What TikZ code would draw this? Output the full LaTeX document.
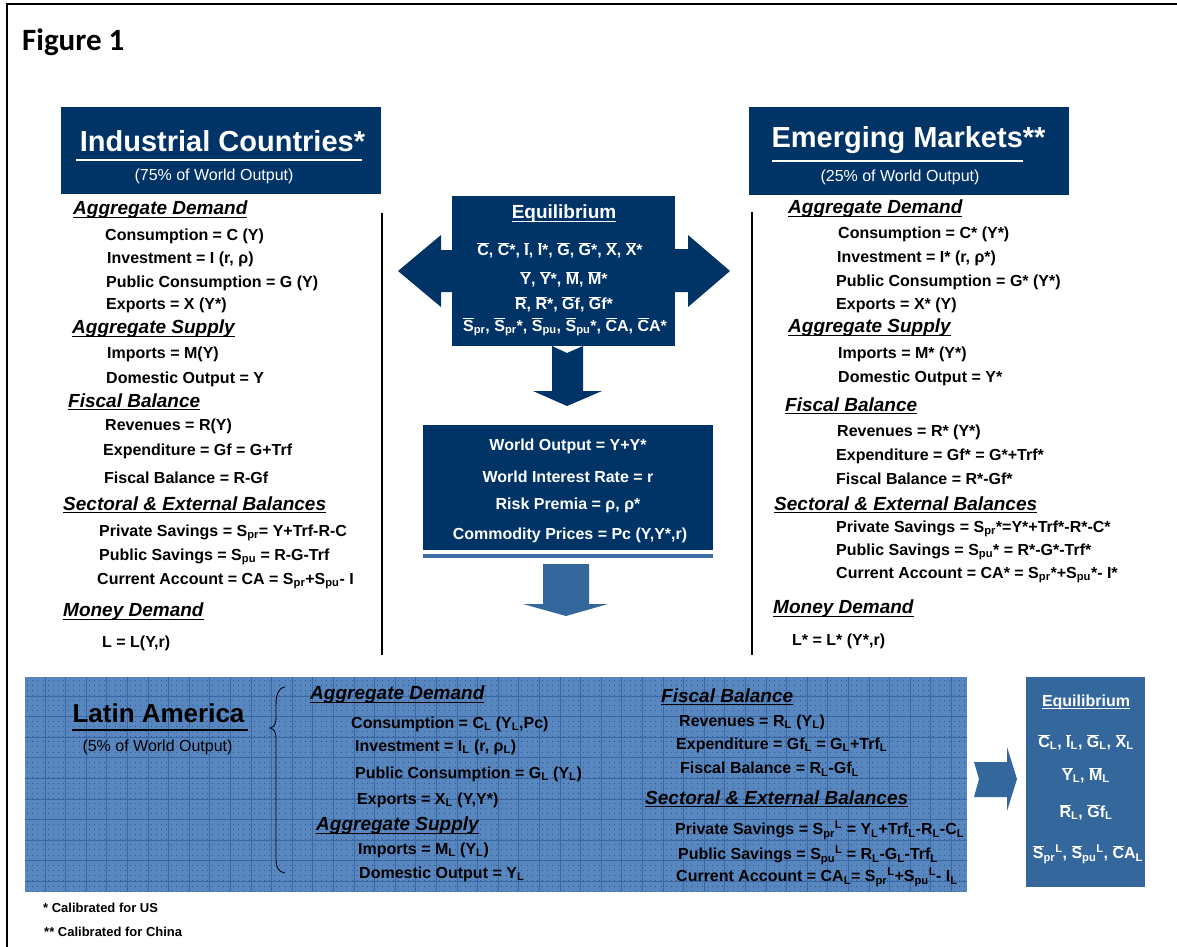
\documentclass[tikz,border=0pt]{standalone}
\usepackage{fontspec}
\setmainfont{Liberation Sans}
\newfontfamily\figfont{Carlito}
\usetikzlibrary{calc}
\definecolor{navy}{RGB}{0,51,102}
\definecolor{steel}{RGB}{52,103,155}
\definecolor{barblue}{RGB}{62,108,166}
\definecolor{latfill}{RGB}{88,135,192}
\definecolor{latline}{RGB}{58,102,162}
\definecolor{latdotc}{RGB}{48,88,148}
\newcommand\ovl[1]{\ensuremath{\overline{\mbox{#1}}}}
\newcommand\sbs[1]{\textsubscript{#1}}
\newcommand\sps[1]{\textsuperscript{#1}}
\newcommand\uln[1]{\leavevmode\setbox0=\hbox{#1}\rlap{\rule[-3pt]{\wd0}{1.4pt}}\box0}
\tikzset{
  hd/.style={anchor=west, inner sep=0pt, yshift=-2pt, font=\fontsize{19}{22}\selectfont\bfseries\itshape},
  eqn/.style={anchor=west, inner sep=0pt, yshift=-2pt, font=\fontsize{16}{19}\selectfont\bfseries},
  wt/.style={inner sep=0pt, yshift=-2pt, text=white, font=\fontsize{16}{19}\selectfont\bfseries},
  ttl/.style={inner sep=0pt, text=white, font=\fontsize{29}{34}\selectfont\bfseries},
  subttl/.style={inner sep=0pt, font=\fontsize{16}{19}\selectfont},
  blk/.style={fill=navy, draw=none, inner sep=0pt, anchor=north west},
  note/.style={anchor=west, inner sep=0pt, font=\fontsize{13}{15}\selectfont\bfseries},
  latdot/.style={latdotc, line width=0.9pt, dash pattern=on 0.9pt off 4.25pt},
  latgrid/.style={latline, line width=0.8pt},
}
\begin{document}
\begin{tikzpicture}[x=1pt, y=-1pt]
  \useasboundingbox (0,0) rectangle (1177,946);
  \draw[line width=1.5pt] (7,952) -- (7,4) -- (1182,4);
  \node[anchor=base west, inner sep=0pt, font=\figfont\fontsize{31}{36}\selectfont\bfseries] (fig) at (22,50) {Figure 1};

  % industrial countries
  \node[blk, minimum width=320pt, minimum height=87pt] (icbox) at (61,107) {};
  \node[ttl] (icT) at (222.5,141) {Industrial Countries*};
  \draw[white, line width=2pt] (76,160) -- (362,160);
  \node[subttl, text=white] (icS) at (214,176) {(75\% of World Output)};
  \node[hd] (icAD) at (73,208) {\uln{Aggregate Demand}};
  \node[eqn] (icC) at (105,234) {Consumption = C (Y)};
  \node[eqn] (icI) at (107,257) {Investment = I (r, ρ)};
  \node[eqn] (icG) at (106,281) {Public Consumption = G (Y)};
  \node[eqn] (icX) at (106,303) {Exports = X (Y*)};
  \node[hd] (icAS) at (72,327) {\uln{Aggregate Supply}};
  \node[eqn] (icM) at (107,352) {Imports = M(Y)};
  \node[eqn] (icY) at (106,377) {Domestic Output = Y};
  \node[hd] (icFB) at (68,400) {\uln{Fiscal Balance}};
  \node[eqn] (icR) at (105,424) {Revenues = R(Y)};
  \node[eqn] (icGf) at (103,449) {Expenditure = Gf = G+Trf};
  \node[eqn] (icB) at (104,476) {Fiscal Balance = R-Gf};
  \node[hd] (icSE) at (63,503) {\uln{Sectoral \& External Balances}};
  \node[eqn] (icSpr) at (99,531) {Private Savings = S\sbs{pr}= Y+Trf-R-C};
  \node[eqn] (icSpu) at (99,555) {Public Savings = S\sbs{pu} = R-G-Trf};
  \node[eqn] (icCA) at (97,579) {Current Account = CA = S\sbs{pr}+S\sbs{pu}- I};
  \node[hd] (icMD) at (63,610) {\uln{Money Demand}};
  \node[eqn] (icL) at (102,641) {L = L(Y,r)};
  \draw[line width=1.3pt] (382,213) -- (382,655);

  % emerging markets
  \node[blk, minimum width=320pt, minimum height=88pt] (embox) at (749,107) {};
  \node[ttl] (emT) at (908.5,140) {Emerging Markets**};
  \draw[white, line width=2pt] (772,161) -- (1023,161);
  \node[subttl, text=white] (emS) at (900,177) {(25\% of World Output)};
  \node[hd] (emAD) at (788,207) {\uln{Aggregate Demand}};
  \node[eqn] (emC) at (838,232) {Consumption = C* (Y*)};
  \node[eqn] (emI) at (837,256) {Investment = I* (r, ρ*)};
  \node[eqn] (emG) at (836,280) {Public Consumption = G* (Y*)};
  \node[eqn] (emX) at (836,303) {Exports = X* (Y)};
  \node[hd] (emAS) at (788,326) {\uln{Aggregate Supply}};
  \node[eqn] (emM) at (838,352) {Imports = M* (Y*)};
  \node[eqn] (emY) at (838,376) {Domestic Output = Y*};
  \node[hd] (emFB) at (785,404) {\uln{Fiscal Balance}};
  \node[eqn] (emR) at (837,430) {Revenues = R* (Y*)};
  \node[eqn] (emGf) at (836,454) {Expenditure = Gf* = G*+Trf*};
  \node[eqn] (emB) at (836,477) {Fiscal Balance = R*-Gf*};
  \node[hd] (emSE) at (774,503) {\uln{Sectoral \& External Balances}};
  \node[eqn] (emSpr) at (836,527) {Private Savings = S\sbs{pr}*=Y*+Trf*-R*-C*};
  \node[eqn] (emSpu) at (836,550) {Public Savings = S\sbs{pu}* = R*-G*-Trf*};
  \node[eqn] (emCA) at (836,573) {Current Account = CA* = S\sbs{pr}*+S\sbs{pu}*- I*};
  \node[hd] (emMD) at (773,607) {\uln{Money Demand}};
  \node[eqn] (emL) at (792,639) {L* = L* (Y*,r)};
  \draw[line width=1.3pt] (752,212) -- (752,655);

  % world equilibrium with block arrows
  \fill[navy] (452,250) -- (441,250) -- (441,235) -- (398,271) -- (441,307) -- (441,292) -- (452,292) -- cycle;
  \fill[navy] (675,249) -- (688,249) -- (688,235) -- (730,271) -- (688,307) -- (688,292) -- (675,292) -- cycle;
  \fill[navy] (552,346) -- (567,353) -- (583,346) -- (583,391) -- (602,391) -- (567,406) -- (533,391) -- (552,391) -- cycle;
  \node[blk, minimum width=223pt, minimum height=150pt] (eqbox) at (452,196) {};
  \node[wt, font=\fontsize{19}{22}\selectfont\bfseries] (eqT) at (564,212) {\uln{Equilibrium}};
  \node[wt] (eq1) at (560,248) {\ovl{C}, \ovl{C}*, \ovl{I}, \ovl{I}*, \ovl{G}, \ovl{G}*, \ovl{X}, \ovl{X}*};
  \node[wt] (eq2) at (564,277) {\ovl{Y}, \ovl{Y}*, \ovl{M}, \ovl{M}*};
  \node[wt] (eq3) at (564,302) {\ovl{R}, \ovl{R}*, \ovl{G}f, \ovl{G}f*};
  \node[wt] (eq4) at (565,325) {\ovl{S}\sbs{pr}, \ovl{S}\sbs{pr}*, \ovl{S}\sbs{pu}, \ovl{S}\sbs{pu}*, \ovl{C}A, \ovl{C}A*};

  % world variables
  \node[blk, minimum width=290pt, minimum height=125pt] (wbox) at (423,425) {};
  \fill[barblue] (423,554) rectangle (713,558);
  \node[wt] (wY) at (568,444) {World Output = Y+Y*};
  \node[wt] (wr) at (568,475) {World Interest Rate = r};
  \node[wt] (wrho) at (568,503) {Risk Premia = ρ, ρ*};
  \node[wt] (wPc) at (570,533) {Commodity Prices = Pc (Y,Y*,r)};
  \fill[steel] (543,564) -- (589,564) -- (589,604) -- (608,604) -- (566,616) -- (523,604) -- (543,604) -- cycle;

  % latin america
  \begin{scope}
    \clip (25,677) rectangle (967,892);
    \fill[latfill] (25,677) rectangle (967,892);
    \foreach \gx in {27.5,32.65,...,967} \draw[latdot] (\gx,679.5) -- (\gx,892);
    \foreach \gx in {45,65.6,...,967} \draw[latgrid] (\gx,677) -- (\gx,892);
    \foreach \gy in {696,716.6,...,892} \draw[latgrid] (25,\gy) -- (967,\gy);
  \end{scope}
  \node[inner sep=0pt, font=\fontsize{26}{30}\selectfont\bfseries] (laT) at (158.5,713) {Latin America};
  \draw[line width=2pt] (72,730) -- (248,730);
  \node[subttl] (laS) at (157.5,747) {(5\% of World Output)};
  \draw[line width=0.9pt] (285,687) .. controls (278,688) and (276,695) .. (276,705) -- (276,718)
    .. controls (276,724) and (274,727) .. (270,728) .. controls (274,729) and (276,732) .. (276,738)
    -- (276,860) .. controls (276,868) and (279,872) .. (285,873);
  \node[hd] (laAD) at (310,693) {\uln{Aggregate Demand}};
  \node[eqn] (laC) at (351,722) {Consumption = C\sbs{L} (Y\sbs{L},Pc)};
  \node[eqn] (laI) at (355,745) {Investment = I\sbs{L} (r, ρ\sbs{L})};
  \node[eqn] (laG) at (355,772) {Public Consumption = G\sbs{L} (Y\sbs{L})};
  \node[eqn] (laX) at (357,798) {Exports = X\sbs{L} (Y,Y*)};
  \node[hd] (laAS) at (316,824) {\uln{Aggregate Supply}};
  \node[eqn] (laM) at (358,848) {Imports = M\sbs{L} (Y\sbs{L})};
  \node[eqn] (laY) at (359,872) {Domestic Output = Y\sbs{L}};
  \node[hd] (laFB) at (661,695) {\uln{Fiscal Balance}};
  \node[eqn] (laR) at (679,720) {Revenues = R\sbs{L} (Y\sbs{L})};
  \node[eqn] (laGf) at (676,743) {Expenditure = Gf\sbs{L} = G\sbs{L}+Trf\sbs{L}};
  \node[eqn] (laB) at (680,767) {Fiscal Balance = R\sbs{L}-Gf\sbs{L}};
  \node[hd] (laSE) at (645,797) {\uln{Sectoral \& External Balances}};
  \node[eqn] (laSpr) at (675,828) {Private Savings = S\sbs{pr}\sps{L} = Y\sbs{L}+Trf\sbs{L}-R\sbs{L}-C\sbs{L}};
  \node[eqn] (laSpu) at (678,853) {Public Savings = S\sbs{pu}\sps{L} = R\sbs{L}-G\sbs{L}-Trf\sbs{L}};
  \node[eqn] (laCA) at (676,875) {Current Account = CA\sbs{L}= S\sbs{pr}\sps{L}+S\sbs{pu}\sps{L}- I\sbs{L}};

  % latin america equilibrium
  \fill[steel] (974,762) -- (1007,762) -- (1007,747) -- (1017,779) -- (1007,811) -- (1007,797) -- (974,797) -- (979,779) -- cycle;
  \node[blk, fill=steel, minimum width=119pt, minimum height=210pt] (leqbox) at (1026,677) {};
  \node[wt] (leqT) at (1086,700) {\uln{Equilibrium}};
  \node[wt] (leq1) at (1086,740) {\ovl{C}\sbs{L}, \ovl{I}\sbs{L}, \ovl{G}\sbs{L}, \ovl{X}\sbs{L}};
  \node[wt] (leq2) at (1086,773) {\ovl{Y}\sbs{L}, \ovl{M}\sbs{L}};
  \node[wt] (leq3) at (1086,810) {\ovl{R}\sbs{L}, \ovl{G}f\sbs{L}};
  \node[wt] (leq4) at (1088,852) {\ovl{S}\sbs{pr}\sps{L}, \ovl{S}\sbs{pu}\sps{L}, \ovl{C}A\sbs{L}};

  \node[note] (n1) at (43,908) {* Calibrated for US};
  \node[note] (n2) at (44,932) {** Calibrated for China};
\end{tikzpicture}
\end{document}
